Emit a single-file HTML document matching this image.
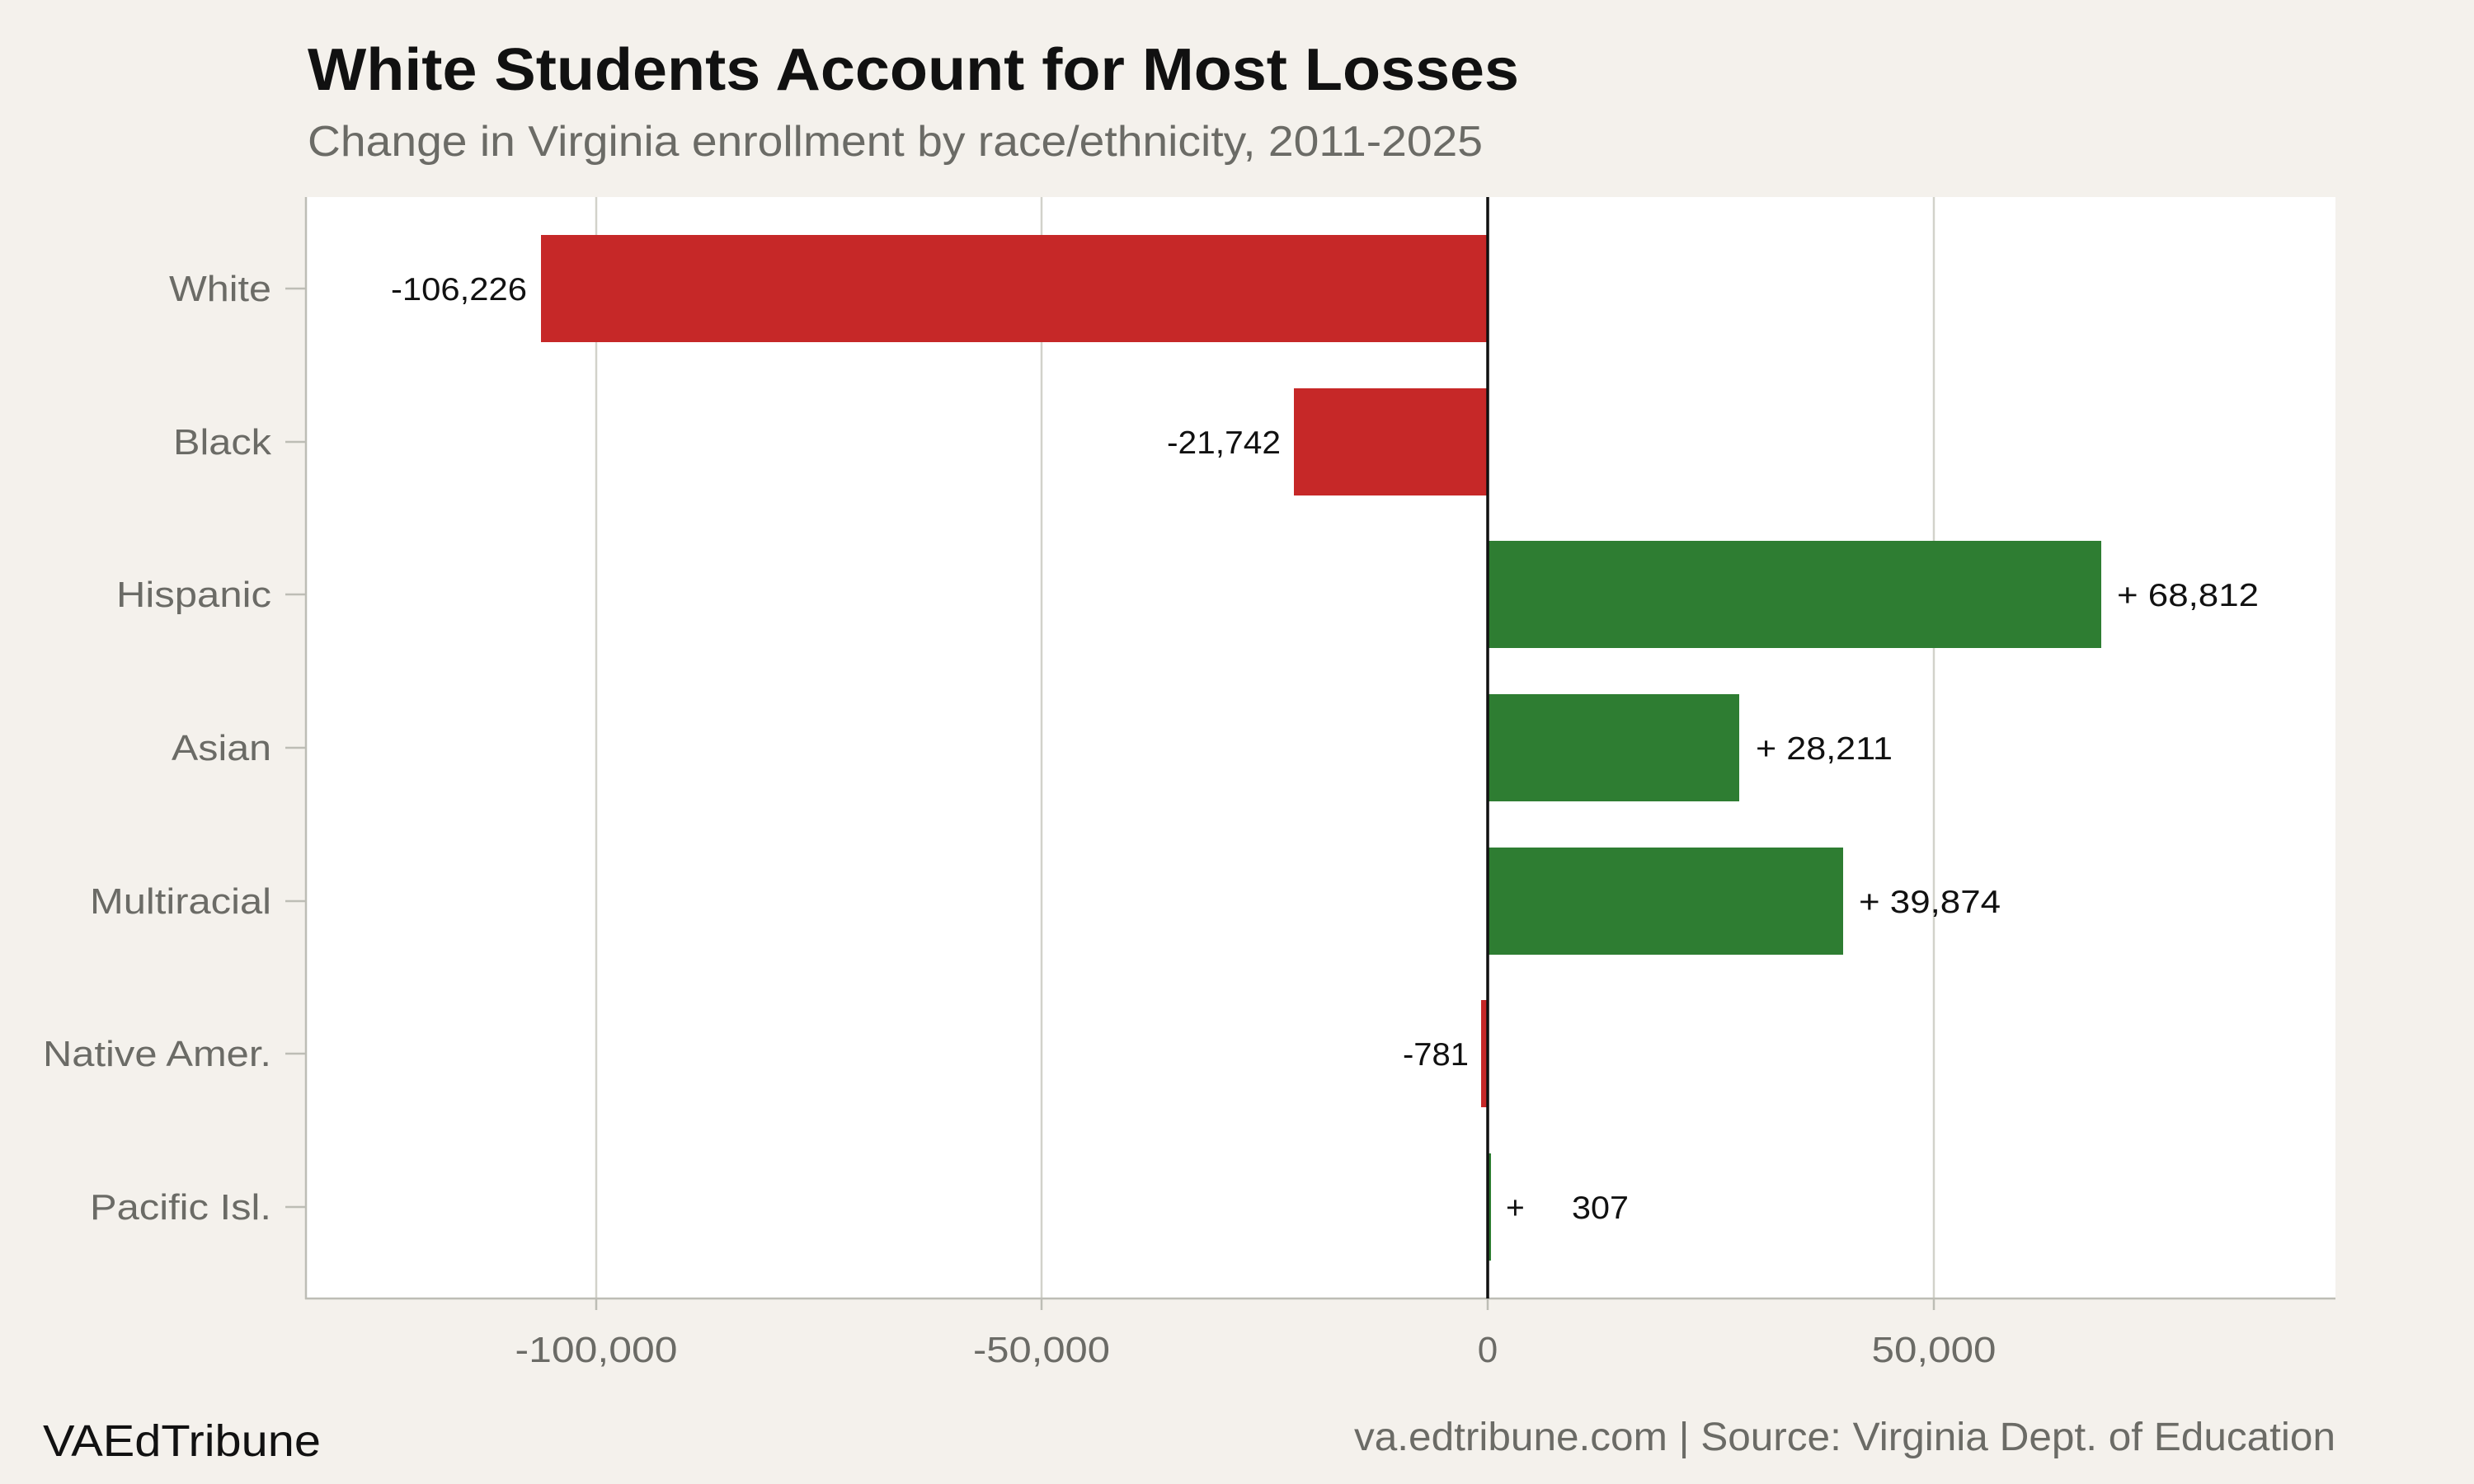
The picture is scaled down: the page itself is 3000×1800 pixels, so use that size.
<!DOCTYPE html>
<html><head><meta charset="utf-8"><style>
html,body{margin:0;padding:0;background:#f4f1ec}
svg{display:block;font-family:"Liberation Sans",sans-serif}
</style></head><body>
<svg width="3000" height="1800" viewBox="0 0 3000 1800" xmlns="http://www.w3.org/2000/svg">
<rect width="3000" height="1800" fill="#f4f1ec"/>
<text x="373" y="109" font-size="72" font-weight="bold" fill="#111" textLength="1469" lengthAdjust="spacingAndGlyphs">White Students Account for Most Losses</text>
<text x="373" y="189" font-size="52" fill="#6b6b66" textLength="1425" lengthAdjust="spacingAndGlyphs">Change in Virginia enrollment by race/ethnicity, 2011-2025</text>
<rect x="371" y="239" width="2461" height="1336" fill="#ffffff"/>
<g stroke="#d2d2ca" stroke-width="2.5">
<line x1="723" y1="239" x2="723" y2="1575"/>
<line x1="1263" y1="239" x2="1263" y2="1575"/>
<line x1="2345" y1="239" x2="2345" y2="1575"/>
</g>
<g stroke="#bdbdb5" stroke-width="2.5">
<line x1="371" y1="239" x2="371" y2="1576"/>
<line x1="370" y1="1575" x2="2832" y2="1575"/>
<line x1="346" y1="350" x2="371" y2="350"/><line x1="346" y1="536" x2="371" y2="536"/>
<line x1="346" y1="721" x2="371" y2="721"/><line x1="346" y1="907" x2="371" y2="907"/>
<line x1="346" y1="1093" x2="371" y2="1093"/><line x1="346" y1="1278" x2="371" y2="1278"/>
<line x1="346" y1="1464" x2="371" y2="1464"/>
<line x1="723" y1="1575" x2="723" y2="1589"/><line x1="1263" y1="1575" x2="1263" y2="1589"/>
<line x1="1804" y1="1575" x2="1804" y2="1589"/><line x1="2345" y1="1575" x2="2345" y2="1589"/>
</g>
<g fill="#c62828">
<rect x="656" y="285" width="1148" height="130"/>
<rect x="1569" y="471" width="235" height="130"/>
<rect x="1796" y="1213" width="8" height="130"/>
</g>
<g fill="#2e7d32">
<rect x="1804" y="656" width="744" height="130"/>
<rect x="1804" y="842" width="305" height="130"/>
<rect x="1804" y="1028" width="431" height="130"/>
<rect x="1804" y="1399" width="4" height="130"/>
</g>
<line x1="1804" y1="239" x2="1804" y2="1575" stroke="#111" stroke-width="3.5"/>
<g font-size="44" fill="#6b6b66" text-anchor="end" lengthAdjust="spacingAndGlyphs">
<text x="329" y="365" textLength="124" lengthAdjust="spacingAndGlyphs">White</text>
<text x="329" y="551" textLength="119" lengthAdjust="spacingAndGlyphs">Black</text>
<text x="329" y="736" textLength="188" lengthAdjust="spacingAndGlyphs">Hispanic</text>
<text x="329" y="922" textLength="121" lengthAdjust="spacingAndGlyphs">Asian</text>
<text x="329" y="1108" textLength="220" lengthAdjust="spacingAndGlyphs">Multiracial</text>
<text x="329" y="1293" textLength="277" lengthAdjust="spacingAndGlyphs">Native Amer.</text>
<text x="329" y="1479" textLength="220" lengthAdjust="spacingAndGlyphs">Pacific Isl.</text>
</g>
<g font-size="44" fill="#6b6b66" text-anchor="middle">
<text x="723" y="1652" textLength="197" lengthAdjust="spacingAndGlyphs">-100,000</text>
<text x="1263" y="1652" textLength="166" lengthAdjust="spacingAndGlyphs">-50,000</text>
<text x="1804" y="1652">0</text>
<text x="2345" y="1652" textLength="151" lengthAdjust="spacingAndGlyphs">50,000</text>
</g>
<g font-size="39" fill="#111">
<text x="639" y="364" text-anchor="end" textLength="165" lengthAdjust="spacingAndGlyphs">-106,226</text>
<text x="1553" y="550" text-anchor="end" textLength="138" lengthAdjust="spacingAndGlyphs">-21,742</text>
<text x="1781" y="1292" text-anchor="end" textLength="80" lengthAdjust="spacingAndGlyphs">-781</text>
<text x="2567" y="735" textLength="172" lengthAdjust="spacingAndGlyphs">+ 68,812</text>
<text x="2129" y="921" textLength="166" lengthAdjust="spacingAndGlyphs">+ 28,211</text>
<text x="2254" y="1107" textLength="172" lengthAdjust="spacingAndGlyphs">+ 39,874</text>
<text x="1826" y="1478">+</text>
<text x="1975" y="1478" text-anchor="end" textLength="69" lengthAdjust="spacingAndGlyphs">307</text>
</g>
<text x="52" y="1766" font-size="54" fill="#111" textLength="337" lengthAdjust="spacingAndGlyphs">VAEdTribune</text>
<text x="2832" y="1759" font-size="48" fill="#6b6b66" text-anchor="end" textLength="1190" lengthAdjust="spacingAndGlyphs">va.edtribune.com | Source: Virginia Dept. of Education</text>
</svg>
</body></html>
